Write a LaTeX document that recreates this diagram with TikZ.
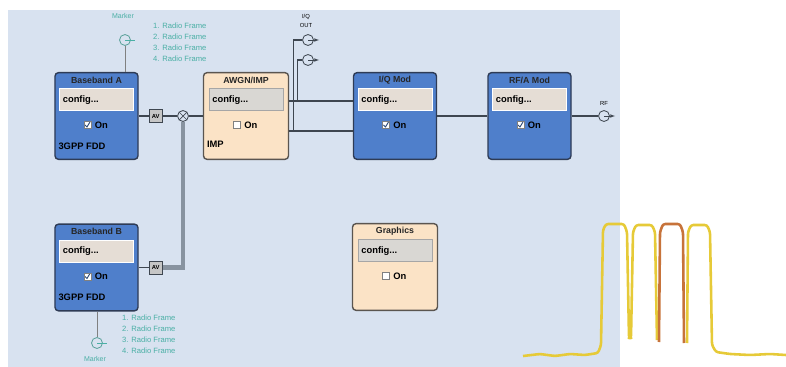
\documentclass[tikz,border=0pt]{standalone}
\usepackage{fontspec}
\setmainfont{Liberation Sans}
\usetikzlibrary{calc}
\usetikzlibrary{positioning}
\definecolor{panel}{HTML}{D8E2F0}
\definecolor{boxblue}{HTML}{4F7FCB}
\definecolor{boxedge}{HTML}{2E3B55}
\definecolor{cream}{HTML}{FBE3C6}
\definecolor{creamedge}{HTML}{5A5550}
\definecolor{cfgfill}{HTML}{E5DDD5}
\definecolor{cfggrey}{HTML}{D9D7D3}
\definecolor{tealcol}{HTML}{4AAFA5}
\definecolor{wirecol}{HTML}{3E4650}
\definecolor{buscol}{HTML}{8893A0}
\definecolor{traceY}{HTML}{E6CA38}
\definecolor{traceO}{HTML}{C7733A}
% one block: name, centre, title, box style, field style, check style
\newcommand{\blk}[6]{%
 \node[#4] (#1) at (#2) {};
 \node[blktitle] (#1t) at ($(#1.north)+(0,8)$) {#3};
 \node[#5] (#1c) at ($(#1.north)+(0,28)$) {config...};
 \node[#6] (#1k) at ($(#1.north)+(-9,53)$) {};
 \node[ontext,right=3pt of #1k] (#1o) {On};
}

\begin{document}
\begin{tikzpicture}[x=0.03cm,y=-0.03cm]
\tikzstyle{bluebox}=[draw=boxedge,fill=boxblue,rounded corners=3pt,line width=1.2pt,minimum width=2.49cm,minimum height=2.6cm,inner sep=0pt]
\tikzstyle{creambox}=[draw=creamedge,fill=cream,rounded corners=3pt,line width=1.2pt,minimum width=2.55cm,minimum height=2.6cm,inner sep=0pt]
\tikzstyle{blktitle}=[font=\fontsize{7.5}{8}\selectfont\bfseries,text=black!85,inner sep=0pt]
\tikzstyle{cfgblue}=[fill=cfgfill,draw=white,line width=.8pt,minimum height=.66cm,text width=2.02cm,inner xsep=.1cm,align=left,font=\fontsize{8}{9}\selectfont\bfseries]
\tikzstyle{cfgcream}=[cfgblue,fill=cfggrey,draw=gray!70]
\tikzstyle{chkoff}=[draw=gray,fill=white,minimum size=.2cm,inner sep=0pt]
\tikzstyle{chkon}=[chkoff,path picture={\draw[boxblue!60!black,line width=.8pt] ($(path picture bounding box.center)+(-2.5,0)$) -- ++(2,2) -- ++(3,-5);}]
\tikzstyle{ontext}=[font=\fontsize{8}{9}\selectfont\bfseries,inner sep=0pt]
\tikzstyle{stdtext}=[ontext,anchor=west]
\tikzstyle{jack}=[draw=wirecol,circle,fill=panel,minimum size=.33cm,inner sep=0pt,line width=.7pt]
\tikzstyle{sum}=[jack,path picture={\draw[wirecol,line width=.6pt] (path picture bounding box.north west) -- (path picture bounding box.south east) (path picture bounding box.north east) -- (path picture bounding box.south west);}]
\tikzstyle{avbox}=[draw=wirecol,fill=gray!45,minimum size=.39cm,inner sep=0pt,line width=.8pt,font=\fontsize{5}{6}\selectfont\bfseries]
\tikzstyle{sig}=[draw=wirecol,line width=1.6pt]
\tikzstyle{busline}=[draw=buscol,line width=3.5pt]
\tikzstyle{small}=[font=\fontsize{5}{6}\selectfont,inner sep=0pt]
\tikzstyle{frames}=[text=tealcol,align=left,anchor=north west,inner sep=0pt,font=\fontsize{6.5}{9.4}\selectfont]
\tikzstyle{trace}=[line width=2.2pt,rounded corners=2pt,line join=round]
\useasboundingbox (0,0) rectangle (786,367);
\clip (0,0) rectangle (786,367);
% panel
\fill[panel] (8,10) rectangle (620,367);

% blocks
\blk{bbA}{96.5,116}{Baseband A}{bluebox}{cfgblue}{chkon}
\node[stdtext] (bbAs) at ($(bbA.north west)+(4,74)$) {3GPP FDD};
\blk{awgn}{246,116}{AWGN/IMP}{creambox}{cfgcream}{chkoff}
\node[stdtext] (awgns) at ($(awgn.north west)+(4,72)$) {IMP};
\blk{iqmod}{395,116}{I/Q Mod}{bluebox}{cfgblue}{chkon}
\blk{rfmod}{529.5,116}{RF/A Mod}{bluebox}{cfgblue}{chkon}
\blk{bbB}{96.5,267.5}{Baseband B}{bluebox}{cfgblue}{chkon}
\node[stdtext] (bbBs) at ($(bbB.north west)+(4,74)$) {3GPP FDD};
\blk{gfx}{395,267}{Graphics}{creambox}{cfgcream}{chkoff}

% marker A and radio frames
\node[small,text=tealcol,font=\fontsize{6}{7}\selectfont] (mkAl) at (123,16) {Marker};
\node[jack,draw=tealcol!70!gray] (mkA) at (125,40) {};
\draw[tealcol,line width=.6pt] (mkA.center) -- ++(10,0);
\draw[gray,line width=.7pt] (mkA.south) -- (mkA.south |- bbA.north);
\node[frames] (rfA) at (153,23) {1. Radio Frame\\2. Radio Frame\\3. Radio Frame\\4. Radio Frame};

% baseband A into AWGN
\node[avbox,right=.3cm of bbA] (avA) {AV};
\node[sum] (sumA) at (183,116) {};
\draw[sig] (bbA.east) -- (avA.west);
\draw[sig] (avA.east) -- (sumA.west);
\draw[sig] (sumA.east) -- (awgn.west);

% baseband B onto the bus
\node[avbox,right=.3cm of bbB] (avB) {AV};
\draw[sig] (bbB.east) -- (avB.west);
\draw[busline] (sumA.south) |- (avB.east);

% AWGN to I/Q Mod, I/Q out
\draw[sig] ($(awgn.east)+(0,-15)$) -- ($(iqmod.west)+(0,-15)$);
\draw[sig] ($(awgn.east)+(0,15)$) -- ($(iqmod.west)+(0,15)$);
\node[small] (iqol) at (306,17) {I/Q};
\node[small] (iqol2) at (306,25) {OUT};
\node[jack] (iqo1) at (308,40) {};
\node[jack] (iqo2) at (308,60) {};
\draw[sig,line width=1pt] ($(awgn.east)+(4,15)$) |- (iqo1.west);
\draw[sig,line width=1pt] ($(awgn.east)+(8,-15)$) |- (iqo2.west);
\draw[wirecol,-latex] (iqo1.center) -- ++(11,0);
\draw[wirecol,-latex] (iqo2.center) -- ++(11,0);

% I/Q Mod to RF
\draw[sig] (iqmod.east) -- (rfmod.west);
\node[jack] (rfo) at (604,116) {};
\node[small] (rfol) at (604,103) {RF};
\draw[sig] (rfmod.east) -- (rfo.west);
\draw[wirecol,-latex] (rfo.center) -- ++(11,0);

% marker B and radio frames
\node[jack,draw=tealcol!70!gray] (mkB) at (97,343) {};
\draw[tealcol,line width=.6pt] (mkB.center) -- ++(10,0);
\draw[gray,line width=.7pt] (mkB.north) -- (mkB.north |- bbB.south);
\node[frames] (rfB) at (122,315) {1. Radio Frame\\2. Radio Frame\\3. Radio Frame\\4. Radio Frame};
\node[small,text=tealcol,font=\fontsize{6}{7}\selectfont] (mkBl) at (95,359) {Marker};

% spectrum trace
\draw[traceY,trace] (523,356) -- (540,354) -- (555,356) -- (570,354) -- (585,355) -- (598,353) -- (601,345) -- (603,230) -- (606,224) -- (624,224) -- (627,232) -- (629,338) -- (631,338) -- (633,232) -- (636,225) -- (652,225) -- (655,232) -- (657,340);
\draw[traceO,trace] (659,342) -- (660,232) -- (663,224) -- (680,224) -- (683,232) -- (684,343);
\draw[traceY,trace] (687,343) -- (688,232) -- (691,225) -- (707,225) -- (710,232) -- (712,345) -- (716,352) -- (730,354) -- (750,355) -- (770,354) -- (786,355);
\end{tikzpicture}
\end{document}
